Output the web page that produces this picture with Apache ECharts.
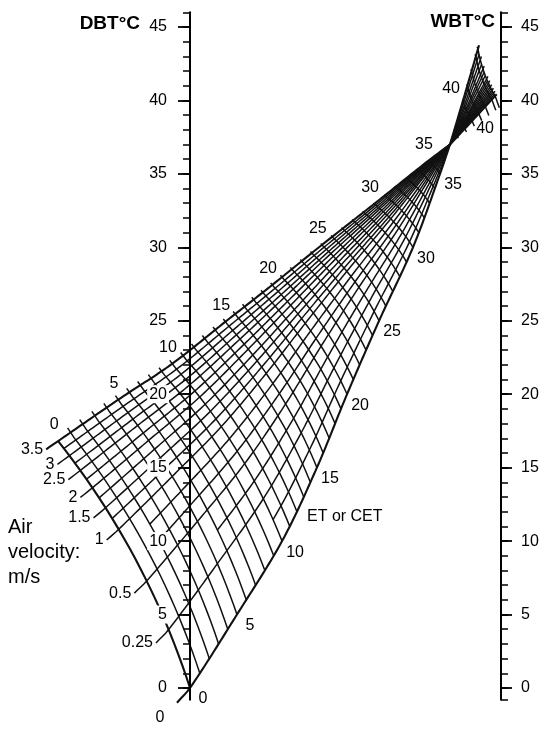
<!DOCTYPE html>
<html>
<head>
<meta charset="utf-8">
<title>ET / CET nomogram</title>
<script src="https://cdn.jsdelivr.net/npm/echarts@6.0.0/dist/echarts.min.js"></script>
<style>
html,body{margin:0;padding:0;background:#ffffff;}
#chart{width:550px;height:734px;}
</style>
</head>
<body>
<div id="chart"></div>
<script>
// ---------------- values ----------------
// scale labels of the two temperature scales (°C)
const dbtTickLabels = [0, 5, 10, 15, 20, 25, 30, 35, 40, 45];
const wbtTickLabels = [0, 5, 10, 15, 20, 25, 30, 35, 40, 45];
const dbtMinorTicks = [0,1,2,3,4,5,6,7,8,9,10,11,12,13,14,15,16,17,18,19,20,21,22,23,24,25,26,27,28,29,30,31,32,33,34,35,36,37,38,39,40,41,42,43,44,45,46];
const wbtMinorTicks = [-0.8,0,1,2,3,4,5,6,7,8,9,10,11,12,13,14,15,16,17,18,19,20,21,22,23,24,25,26,27,28,29,30,31,32,33,34,35,36,37,38,39,40,41,42,43,44,45,46];

// ET lines drawn every 1 °C (lower fan, then the small fan above the crossing point)
const etLinesLower = [0,1,2,3,4,5,6,7,8,9,10,11,12,13,14,15,16,17,18,19,20,21,22,23,24,25,26,27,28,29,30,31,32,33,34,35,36];
const etLinesUpper = [38, 39, 40, 41, 42, 43, 43.5];
const etEdgeLabels = [0, 5, 10, 15, 20, 25, 30, 35];
const etUpperFanLabels = [40];

// still-air (0 m/s) boundary: ET value, horizontal position (% of DBT->WBT distance);
// its height on the temperature scale equals the ET value
const stillAirET  = [-1, 0, 5, 10, 15, 20, 25, 30, 35, 37, 40, 43.5];
const stillAirPos = [-4.2, 0, 15.1, 29.6, 40.8, 50.5, 60.8, 71.7, 80.4, 83.6, 87.8, 92.6];

// 3.5 m/s boundary: ET value, horizontal position (%), height (°C)
const fastAirET  = [0, 5, 10, 15, 20, 25, 30, 35, 37, 40, 43.5];
const fastAirPos = [-42.4, -23.2, -5.8, 11.3, 26.4, 42.4, 59.2, 76.5, 83.6, 90.7, 98.1];
const fastAirT   = [16.81, 19.61, 22.06, 24.92, 27.43, 30.16, 32.95, 35.87, 37.0, 38.6, 40.3];

// labelled air velocity curves (m/s) and their relative place across the ET lines (0 = still air, 1 = 3.5 m/s)
const velocities   = [0, 0.25, 0.5, 1, 1.5, 2, 2.5, 3, 3.5];
const velocityFrac = [0, 0.22, 0.41, 0.62, 0.71, 0.795, 0.87, 0.935, 1];
// unlabelled intermediate velocity curves of the mesh (relative place, ET where each one starts)
const intermediateFrac    = [0.11, 0.315, 0.48, 0.55, 0.665, 0.752, 0.832, 0.902, 0.967];
const intermediateStartET = [10, 6, 2, 2, 0, 0, 0, 0, 0];

// ---------------- layout / style ----------------
const W = 550, H = 734;
const DBT_X = 190, WBT_X = 501;           // pixel position of the two scales
const GRID_TOP = 12.26, GRID_BOTTOM = 34.25;
const Y_MIN = -0.8, Y_MAX = 46;
const X_MIN = -DBT_X / (WBT_X - DBT_X) * 100;
const X_MAX = (W - DBT_X) / (WBT_X - DBT_X) * 100;
const KX = W / (X_MAX - X_MIN);
const KY = (H - GRID_TOP - GRID_BOTTOM) / (Y_MAX - Y_MIN);
const BULGE = 0.045;
const FONT = 'Liberation Sans, Arial, sans-serif';
const INK = '#111111';

// ---------------- nomogram geometry ----------------
function interp(ks, vs, k) {
  const n = ks.length;
  const slope = (a, b) => (vs[b] - vs[a]) / (ks[b] - ks[a]);
  if (k <= ks[0]) return vs[0] + slope(0, 1) * (k - ks[0]);
  if (k >= ks[n - 1]) return vs[n - 1] + slope(n - 2, n - 1) * (k - ks[n - 1]);
  let i = 0;
  while (k > ks[i + 1]) i++;
  const tan = j => j === 0 ? slope(0, 1) : (j === n - 1 ? slope(n - 2, n - 1) : slope(j - 1, j + 1));
  const h = ks[i + 1] - ks[i], t = (k - ks[i]) / h;
  const m0 = tan(i) * h, m1 = tan(i + 1) * h;
  const t2 = t * t, t3 = t2 * t;
  return (2 * t3 - 3 * t2 + 1) * vs[i] + (t3 - 2 * t2 + t) * m0 + (-2 * t3 + 3 * t2) * vs[i + 1] + (t3 - t2) * m1;
}
function edge(fast, e) {
  const ks = fast ? fastAirET : stillAirET;
  const ps = fast ? fastAirPos : stillAirPos;
  const ts = fast ? fastAirT : stillAirET;
  const upper = e > 37;
  const idx = ks.map((k, i) => i).filter(i => upper ? ks[i] >= 37 : ks[i] <= 37);
  const kk = idx.map(i => ks[i]), pp = idx.map(i => ps[i]), tt = idx.map(i => ts[i]);
  return [interp(kk, pp, e) * KX, interp(kk, tt, e) * KY];
}
function node(e, s) {
  const L = edge(false, e), U = edge(true, e);
  const dx = U[0] - L[0], dy = U[1] - L[1];
  const len = Math.hypot(dx, dy) || 1e-9;
  const nx = dy / len, ny = -dx / len;
  const sc = Math.min(1, Math.max(0, s));
  const b = BULGE * len * 4 * sc * (1 - sc);
  return [(L[0] + s * dx + b * nx) / KX, (L[1] + s * dy + b * ny) / KY];
}
function etLine(e, s0, s1) {
  const c = [];
  const n = 24;
  for (let i = 0; i <= n; i++) c.push(node(e, s0 + (s1 - s0) * i / n));
  return c;
}
function velocityCurve(s, e0, e1) {
  const c = [];
  for (let k = 0; e0 + k * 0.25 <= e1 + 1e-9; k++) c.push(node(e0 + k * 0.25, s));
  return c;
}

// ---------------- series data ----------------
const thinLines = [];
etLinesLower.forEach(e => { if (e !== 0) thinLines.push({ coords: etLine(e, 0, 1.02) }); });
etLinesUpper.forEach(e => thinLines.push({ coords: etLine(e, -0.05, 1.25) }));
velocityFrac.forEach((s, i) => {
  if (i !== 0 && i !== velocityFrac.length - 1) thinLines.push({ coords: velocityCurve(s, -1, 43.75) });
});
intermediateFrac.forEach((s, i) => thinLines.push({ coords: velocityCurve(s, intermediateStartET[i], 43.6) }));
const boldLines = [
  { coords: etLine(0, 0, 1) },
  { coords: velocityCurve(velocityFrac[0], -1, 43.75) },
  { coords: velocityCurve(velocityFrac[velocityFrac.length - 1], -1, 43.75) }
];

const labelData = [];
etEdgeLabels.forEach(e => labelData.push({ value: node(e, 1), name: String(e), label: { position: 'inside', offset: [-4, -16] } }));
etEdgeLabels.forEach(e => labelData.push({ value: node(e, 0), name: String(e), label: { position: 'inside', offset: [13, 11] } }));
etUpperFanLabels.forEach(e => {
  labelData.push({ value: node(e, 0), name: String(e), label: { position: 'inside', offset: [-12, -12] } });
  labelData.push({ value: node(e, 1), name: String(e), label: { position: 'inside', offset: [13, 8] } });
});
velocities.forEach((v, i) => {
  const p = node(-1, velocityFrac[i]);
  if (v === 0) labelData.push({ value: p, name: String(v), label: { position: 'inside', offset: [-17, 15] } });
  else labelData.push({ value: p, name: String(v), label: { position: 'left', distance: 3 } });
});

// ---------------- chart ----------------
function tempAxis(side, offset, majorLen, showLine, ticks, labels, labelBg) {
  return {
    type: 'value', position: side, offset: offset, min: Y_MIN, max: Y_MAX, z: showLine ? 10 : 0,
    axisLine: { show: showLine, onZero: false, lineStyle: { color: '#000', width: 2 } },
    axisTick: { show: true, length: majorLen, customValues: ticks, lineStyle: { color: '#000', width: showLine ? 1.8 : 1.5 } },
    axisLabel: labels ? { show: true, customValues: labels, margin: majorLen + 9, color: '#000', fontSize: 16, fontFamily: FONT,
                          backgroundColor: labelBg ? '#ffffff' : 'transparent', padding: labelBg ? [1, 2, 1, 2] : 0 }
                      : { show: false },
    splitLine: { show: false }
  };
}

const chart = echarts.init(document.getElementById('chart'), null, { renderer: 'canvas', width: W, height: H });
chart.setOption({
  animation: false,
  backgroundColor: '#ffffff',
  grid: { left: 0, right: 0, top: GRID_TOP, bottom: GRID_BOTTOM, containLabel: false, outerBoundsMode: 'none' },
  xAxis: { type: 'value', min: X_MIN, max: X_MAX, show: false },
  yAxis: [
    tempAxis('left', -DBT_X, 12, true, dbtTickLabels, dbtTickLabels, true),
    tempAxis('left', -DBT_X, 7, false, dbtMinorTicks, null, false),
    tempAxis('right', -(W - WBT_X), 11, true, wbtTickLabels, wbtTickLabels, false),
    tempAxis('right', -(W - WBT_X), 7, false, wbtMinorTicks, null, false)
  ],
  series: [
    { type: 'lines', coordinateSystem: 'cartesian2d', polyline: true, silent: true, clip: false, z: 2,
      lineStyle: { color: INK, width: 1.5, opacity: 1 }, data: thinLines },
    { type: 'lines', coordinateSystem: 'cartesian2d', polyline: true, silent: true, clip: false, z: 3,
      lineStyle: { color: INK, width: 2.1, opacity: 1 }, data: boldLines },
    { type: 'scatter', symbolSize: 0.01, silent: true, clip: false, z: 4, itemStyle: { color: '#000000', opacity: 1 },
      label: { show: true, formatter: '{b}', color: '#000000', opacity: 1, textBorderWidth: 0, fontSize: 16, fontFamily: FONT },
      emphasis: { disabled: true },
      data: labelData }
  ],
  graphic: [
    { type: 'text', x: 140, y: 24, style: { text: 'DBT°C', fill: '#000', font: 'bold 19px ' + FONT, align: 'right', verticalAlign: 'middle' } },
    { type: 'text', x: 495, y: 22, style: { text: 'WBT°C', fill: '#000', font: 'bold 19px ' + FONT, align: 'right', verticalAlign: 'middle' } },
    { type: 'text', x: 8, y: 515, style: { text: 'Air\nvelocity:\nm/s', fill: '#000', font: '20px ' + FONT, lineHeight: 25, align: 'left', verticalAlign: 'top' } },
    { type: 'text', x: 307, y: 517, style: { text: 'ET or CET', fill: '#000', font: '16px ' + FONT, align: 'left', verticalAlign: 'middle' } }
  ]
});
</script>
</body>
</html>
